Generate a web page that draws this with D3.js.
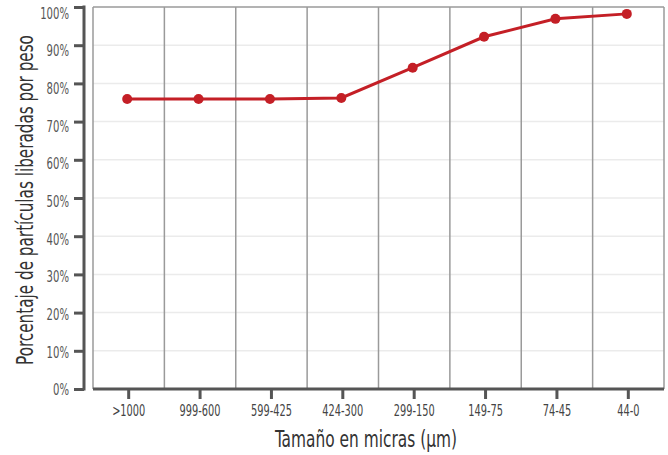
<!DOCTYPE html>
<html>
<head>
<meta charset="utf-8">
<script src="https://cdn.jsdelivr.net/npm/d3@7"></script>
<style>
  html, body { margin: 0; padding: 0; background: #fff; }
  svg { display: block; }
  text { font-family: "DejaVu Sans Condensed", "DejaVu Sans", sans-serif; }
</style>
</head>
<body>
<svg id="chart" width="668" height="455"></svg>
<script>
// Particle size fractions (microns) and liberated-weight percentage
const categories = [">1000", "999-600", "599-425", "424-300", "299-150", "149-75", "74-45", "44-0"];
const liberated = [75.9, 75.9, 75.9, 76.2, 84.1, 92.2, 96.9, 98.2];
const yTicks = [0, 10, 20, 30, 40, 50, 60, 70, 80, 90, 100];

const svg = d3.select("#chart");
const plot = { left: 93, right: 664, top: 7, bottom: 389 };

const x = d3.scaleBand().domain(categories).range([plot.left, plot.right]).padding(0);
const y = d3.scaleLinear().domain([0, 100]).range([plot.bottom, plot.top]);
// tick labels sit on a slightly shorter scale than the tick marks
const yLabel = d3.scaleLinear().domain([0, 100]).range([plot.bottom, plot.top + 5.5]);

// squeeze text horizontally to a narrow look
function narrow(sel, factor) {
  sel.each(function () {
    const w = this.getComputedTextLength();
    d3.select(this).attr("textLength", w * factor).attr("lengthAdjust", "spacingAndGlyphs");
  });
}

// horizontal grid
svg.append("g").selectAll("line").data(yTicks.filter(d => d > 0 && d < 100)).join("line")
  .attr("x1", plot.left).attr("x2", plot.right)
  .attr("y1", d => y(d)).attr("y2", d => y(d))
  .attr("stroke", "#ebebeb").attr("stroke-width", 1.5);

// vertical separators between size fractions
const bounds = categories.map(c => x(c)).concat([plot.right]);
svg.append("g").selectAll("line").data(bounds).join("line")
  .attr("x1", d => d).attr("x2", d => d)
  .attr("y1", plot.top).attr("y2", plot.bottom)
  .attr("stroke", "#9a9a9a").attr("stroke-width", 1.5);

// top border
svg.append("line")
  .attr("x1", plot.left).attr("x2", plot.right)
  .attr("y1", plot.top).attr("y2", plot.top)
  .attr("stroke", "#9a9a9a").attr("stroke-width", 1.5);

// y axis (offset to the left of the panel)
const yAxis = d3.axisLeft(y).tickValues(yTicks).tickFormat(d => d + "%").tickSize(10).tickPadding(5);
const gy = svg.append("g").attr("transform", `translate(${plot.left - 9},0)`).call(yAxis);
gy.select(".domain").attr("stroke", "#555").attr("stroke-width", 3)
  .attr("d", `M0,${plot.top - 1.5}V${plot.bottom + 1.5}`);
gy.selectAll(".tick line").attr("stroke", "#555").attr("stroke-width", 3);
gy.selectAll(".tick text").attr("fill", "#555").style("font-size", "16px")
  .attr("y", d => yLabel(d) - y(d)).attr("dy", "0.36em").call(narrow, 0.7);

// x axis
const xAxis = d3.axisBottom(x).tickSize(10).tickPadding(6);
const gx = svg.append("g").attr("transform", `translate(0,${plot.bottom})`).call(xAxis);
gx.select(".domain").attr("stroke", "#555").attr("stroke-width", 3)
  .attr("d", `M${plot.left},0H${plot.right}`);
gx.selectAll(".tick line").attr("stroke", "#555").attr("stroke-width", 3);
gx.selectAll(".tick text").attr("fill", "#444").style("font-size", "16px")
  .attr("y", 16).attr("dy", "0.71em").call(narrow, 0.68);

// data line and points
const cx = d => x(d) + x.bandwidth() / 2 - 1.5;
const data = categories.map((c, i) => ({ c, v: liberated[i] }));
svg.append("path").datum(data)
  .attr("fill", "none").attr("stroke", "#c41f26").attr("stroke-width", 3)
  .attr("d", d3.line().x(d => cx(d.c)).y(d => y(d.v)));
svg.append("g").selectAll("circle").data(data).join("circle")
  .attr("cx", d => cx(d.c)).attr("cy", d => y(d.v)).attr("r", 5)
  .attr("fill", "#c41f26");

// axis titles, condensed by a horizontal scale to a fixed width
function title(tx, ty, rot, width, label) {
  const g = svg.append("g");
  const t = g.append("text")
    .attr("text-anchor", "middle").attr("fill", "#333").style("font-size", "23px")
    .text(label);
  const sx = width / t.node().getComputedTextLength();
  g.attr("transform", `translate(${tx},${ty}) rotate(${rot}) scale(${sx},1)`);
}
title(366, 447, 0, 182, "Tamaño en micras (µm)");
title(33, 200, -90, 330, "Porcentaje de partículas liberadas por peso");
</script>
</body>
</html>
